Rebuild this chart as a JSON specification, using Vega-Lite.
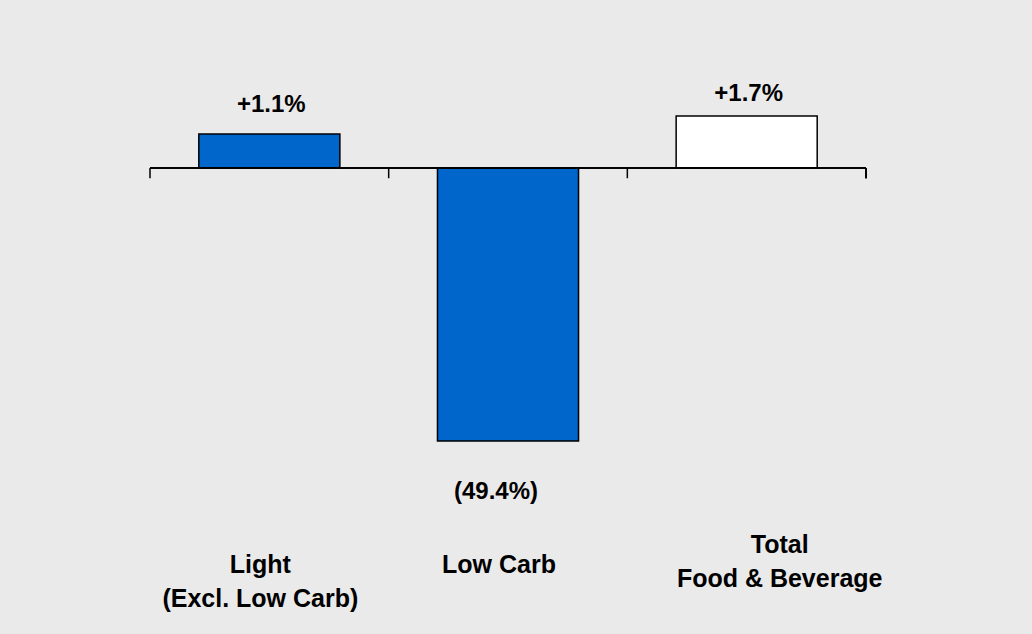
{
  "$schema": "https://vega.github.io/schema/vega-lite/v6.json",
  "width": 1032,
  "height": 634,
  "autosize": {"type": "fit", "contains": "padding"},
  "padding": 0,
  "background": "#eaeaea",
  "config": {"view": {"stroke": null}, "font": "Liberation Sans"},
  "data": {
    "values": [
      {"category": "Light", "value": 6.15, "label": "+1.1%", "name": "Light\n(Excl. Low Carb)"},
      {"category": "Low Carb", "value": -49.4, "label": "(49.4%)", "name": "Low Carb"},
      {"category": "Total", "value": 9.4, "label": "+1.7%", "name": "Total\nFood & Beverage"}
    ]
  },
  "encoding": {
    "x": {
      "field": "category", "type": "nominal", "sort": null,
      "scale": {"paddingInner": 0, "paddingOuter": 0.662, "align": 0.4747},
      "axis": null
    }
  },
  "layer": [
    {
      "mark": {"type": "bar", "width": {"band": 0.591}, "stroke": "#000000", "strokeWidth": 1.5},
      "encoding": {
        "y": {"field": "value", "type": "quantitative", "scale": {"domain": [-84.32, 30.4], "nice": false, "zero": false}, "axis": null},
        "y2": {"datum": 0},
        "fill": {"field": "category", "type": "nominal", "scale": {"domain": ["Light", "Low Carb", "Total"], "range": ["#0066cc", "#0066cc", "#ffffff"]}, "legend": null}
      }
    },
    {
      "mark": {"type": "rule", "color": "#000000", "strokeWidth": 1.5},
      "encoding": {
        "x": {"datum": "Light", "bandPosition": 0},
        "x2": {"datum": "Total", "bandPosition": 1},
        "y": {"datum": 0}
      }
    },
    {
      "mark": {"type": "rule", "color": "#000000", "strokeWidth": 1.5},
      "encoding": {
        "x": {"field": "category", "type": "nominal", "bandPosition": 0},
        "y": {"datum": 0},
        "y2": {"datum": -1.85}
      }
    },
    {
      "mark": {"type": "rule", "color": "#000000", "strokeWidth": 1.5},
      "encoding": {
        "x": {"datum": "Total", "bandPosition": 1},
        "y": {"datum": 0},
        "y2": {"datum": -1.85}
      }
    },
    {
      "transform": [{"filter": "datum.category === 'Light'"}],
      "mark": {"type": "text", "fontSize": 24, "fontWeight": "bold", "baseline": "alphabetic", "dy": -22, "dx": 2, "color": "#000000"},
      "encoding": {"y": {"field": "value", "type": "quantitative"}, "text": {"field": "label"}}
    },
    {
      "transform": [{"filter": "datum.category === 'Total'"}],
      "mark": {"type": "text", "fontSize": 24, "fontWeight": "bold", "baseline": "alphabetic", "dy": -15, "dx": 2, "color": "#000000"},
      "encoding": {"y": {"field": "value", "type": "quantitative"}, "text": {"field": "label"}}
    },
    {
      "transform": [{"filter": "datum.category === 'Low Carb'"}],
      "mark": {"type": "text", "fontSize": 24, "fontWeight": "bold", "baseline": "alphabetic", "dy": 58, "dx": -12, "color": "#000000"},
      "encoding": {"y": {"field": "value", "type": "quantitative"}, "text": {"field": "label"}}
    },
    {
      "transform": [{"filter": "datum.category !== 'Total'"}],
      "mark": {"type": "text", "fontSize": 25, "fontWeight": "bold", "baseline": "alphabetic", "lineBreak": "\n", "lineHeight": 34, "dx": -9, "color": "#000000"},
      "encoding": {"y": {"datum": -73.3}, "text": {"field": "name"}}
    },
    {
      "transform": [{"filter": "datum.category === 'Total'"}],
      "mark": {"type": "text", "fontSize": 25, "fontWeight": "bold", "baseline": "alphabetic", "lineBreak": "\n", "lineHeight": 34, "dy": -20, "dx": 33, "color": "#000000"},
      "encoding": {"y": {"datum": -73.3}, "text": {"field": "name"}}
    }
  ]
}
